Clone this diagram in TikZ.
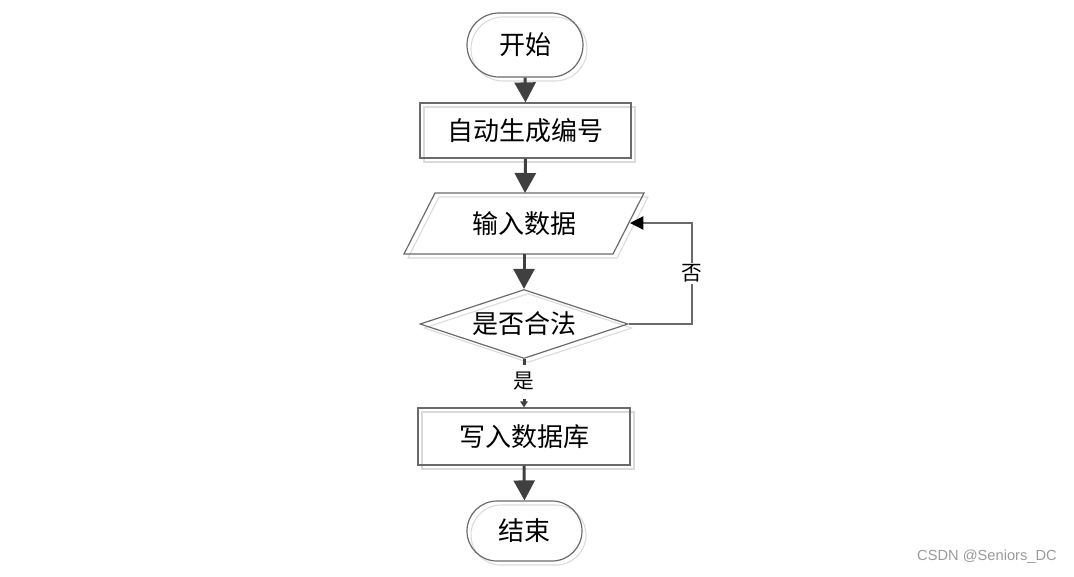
\documentclass[tikz,border=0pt]{standalone}
\usepackage{fontspec}
\setmainfont{Liberation Sans}
\newfontfamily\cjk{Noto Sans CJK SC}
\usetikzlibrary{arrows.meta,shapes.geometric,shapes.misc}
\definecolor{edgegray}{HTML}{6A6A6A}
\definecolor{arrowgray}{HTML}{404040}
\definecolor{shadowgray}{HTML}{DADADA}
\definecolor{markgray}{HTML}{9A9A9A}
\tikzset{
  ghost/.style={preaction={draw=shadowgray,line width=0.8pt,transform canvas={shift={(3pt,-3pt)}}}},
  shapeline/.style={draw=edgegray,line width=0.9pt,ghost},
  nodetext/.style={font=\cjk\fontsize{19.5pt}{22pt}\selectfont,text=black},
  terminal/.style={rounded rectangle,shapeline,nodetext,inner sep=0pt},
  processbox/.style={rectangle,shapeline,nodetext,inner sep=0pt},
  decision/.style={diamond,shapeline,nodetext,inner sep=0pt,aspect=3},
  iotext/.style={rectangle,nodetext,inner sep=0pt,minimum width=150pt,minimum height=45.75pt},
  bigarrow/.style={draw=arrowgray,line width=2.25pt,-{Triangle[width=15.75pt,length=15pt]}},
  thinarrow/.style={draw=edgegray,line width=0.9pt,-{Triangle[width=10pt,length=10pt,color=black]}},
  smallarrow/.style={draw=arrowgray,line width=2.25pt,-{Triangle[width=5.5pt,length=4.5pt,color=arrowgray]}},
  edgelabel/.style={font=\cjk\fontsize{15.5pt}{17pt}\selectfont,fill=white,inner sep=1pt},
}
\begin{document}
\begin{tikzpicture}[x=0.75pt,y=-0.75pt]
\useasboundingbox (0,0) rectangle (1074,576);
% nodes
\node[terminal,minimum width=87pt,minimum height=48pt] (start) at (525,45) {开始};
\node[processbox,minimum width=158.25pt,minimum height=41.25pt] (gen) at (525.5,130.5) {自动生成编号};
% parallelogram for input
\draw[shapeline] (435,193) -- (644,193) -- (613,254) -- (404,254) -- cycle;
\node[iotext] (input) at (524,223.5) {输入数据};
\coordinate (inR) at (630,223);
\node[decision,minimum width=156pt,minimum height=51.75pt] (check) at (524,324) {是否合法};
\node[processbox,minimum width=159pt,minimum height=42.75pt] (write) at (524,436.5) {写入数据库};
\node[terminal,minimum width=86.25pt,minimum height=45pt] (stop) at (524.5,531) {结束};
% connectors
\draw[bigarrow] (start.south) -- (gen.north);
\draw[bigarrow] (gen.south) -- (525,193);
\draw[bigarrow] (input.south) -- (check.north);
\draw[smallarrow] (check.south) -- (write.north);
\node[edgelabel,minimum height=25.5pt] (yes) at (524,381.5) {是};
\draw[thinarrow] (check.east) -- (692,324) -- node[edgelabel,pos=0.5] (no) {否} (692,223) -- (inR);
\draw[bigarrow] (write.south) -- (stop.north);
% watermark
\node[font=\fontsize{11pt}{13pt}\selectfont,text=markgray,inner sep=0pt] (mark) at (987,557) {CSDN @Seniors\_DC};
\end{tikzpicture}
\end{document}
